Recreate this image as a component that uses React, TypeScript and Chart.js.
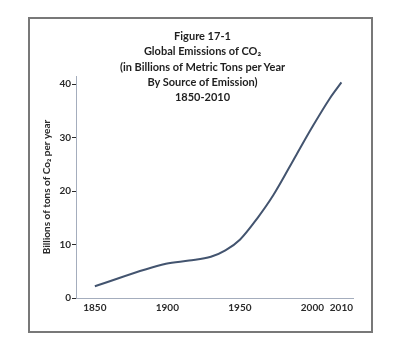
import React, { useEffect, useRef } from 'react';
import { Chart, registerables, LinearScale } from 'chart.js';

Chart.register(...registerables);

// ---- data ----
const years = [1850, 1899, 1915, 1930, 1940, 1950, 1962, 1973, 1989, 2000, 2006, 2010];
const emissions = [2.2, 6.4, 7.0, 7.7, 8.9, 10.9, 14.9, 19.2, 26.8, 32.0, 37.3, 40.3];
const xTickYears = [1850, 1900, 1950, 2000, 2010];
const yTickValues = [0, 10, 20, 30, 40];
const titleLines = [
  'Figure 17-1',
  'Global Emissions of CO₂',
  '(in Billions of Metric Tons per Year',
  'By Source of Emission)',
  '1850-2010',
];
const yAxisTitle = 'Billions of tons of Co₂ per year';

// The reference's year axis gives the last decade (2000-2010) about twice the room.
const STRETCH_FROM = 2000;
const STRETCH_FACTOR = 2;

class StretchScale extends LinearScale {
  static id = 'stretch';
  static defaults = { ...(LinearScale as any).defaults };
  _stretch(v: number) {
    return v <= STRETCH_FROM ? v : STRETCH_FROM + (v - STRETCH_FROM) * STRETCH_FACTOR;
  }
  _unstretch(w: number) {
    return w <= STRETCH_FROM ? w : STRETCH_FROM + (w - STRETCH_FROM) / STRETCH_FACTOR;
  }
  getPixelForValue(value: number) {
    if (value === null || value === undefined || isNaN(value)) return NaN;
    const a = this._stretch(this.min);
    const b = this._stretch(this.max);
    return this.getPixelForDecimal((this._stretch(value) - a) / (b - a));
  }
  getValueForPixel(pixel: number) {
    const a = this._stretch(this.min);
    const b = this._stretch(this.max);
    return this._unstretch(a + this.getDecimalForPixel(pixel) * (b - a));
  }
}
Chart.register(StretchScale as any);

const FONT = 'Lato, "Open Sans", sans-serif';
const AXIS_COLOR = '#a4adbd';
const TEXT_COLOR = '#2b2b2b';

export default function App() {
  const canvasRef = useRef<HTMLCanvasElement | null>(null);

  useEffect(() => {
    const canvas = canvasRef.current;
    if (!canvas) return;
    const chart = new Chart(canvas, {
      type: 'line',
      data: {
        datasets: [
          {
            data: years.map((y, i) => ({ x: y, y: emissions[i] })),
            borderColor: '#43546f',
            borderWidth: 2,
            pointRadius: 0,
            fill: false,
            cubicInterpolationMode: 'monotone',
          },
        ],
      },
      options: {
        animation: false,
        responsive: false,
        maintainAspectRatio: false,
        layout: { padding: { left: 20, top: 76, right: 51, bottom: 0 } },
        plugins: {
          legend: { display: false },
          tooltip: { enabled: false },
          title: { display: false },
        },
        scales: {
          x: {
            type: 'stretch' as any,
            min: 1837,
            max: 2014,
            afterBuildTicks: (s: any) => {
              s.ticks = xTickYears.map((v) => ({ value: v }));
            },
            afterFit: (s: any) => {
              s.height = 58;
            },
            grid: { display: false, drawTicks: false },
            border: { display: true, color: AXIS_COLOR, width: 1 },
            ticks: {
              callback: (v: any) => String(v),
              font: { family: FONT, weight: 'bold', size: 10 },
              color: TEXT_COLOR,
              padding: 4,
              maxRotation: 0,
              autoSkip: false,
            },
          } as any,
          y: {
            type: 'linear',
            min: 0,
            max: 41.5,
            afterBuildTicks: (s: any) => {
              s.ticks = yTickValues.map((v) => ({ value: v }));
            },
            afterFit: (s: any) => {
              s.width = 56;
            },
            grid: {
              drawOnChartArea: false,
              drawTicks: true,
              tickLength: 4,
              tickColor: TEXT_COLOR,
              tickWidth: 1,
            },
            border: { display: true, color: AXIS_COLOR, width: 1 },
            ticks: {
              font: { family: FONT, weight: 'bold', size: 10 },
              color: TEXT_COLOR,
              padding: 1,
            },
            title: {
              display: true,
              text: yAxisTitle,
              font: { family: FONT, size: 10, weight: 'bold' },
              color: TEXT_COLOR,
              padding: { top: 21, bottom: 0 },
            },
          },
        },
      },
    });
    return () => chart.destroy();
  }, []);

  return (
    <div style={{ position: 'absolute', left: 0, top: 0, width: 404, height: 356, background: '#fff' }}>
      <div
        style={{
          position: 'absolute',
          left: 28,
          top: 17,
          width: 345,
          height: 316,
          border: '2px solid #787878',
          boxSizing: 'border-box',
        }}
      />
      <canvas ref={canvasRef} width={404} height={356} style={{ position: 'absolute', left: 0, top: 0 }} />
      <div
        style={{
          position: 'absolute',
          left: 0,
          top: 28,
          width: 405,
          textAlign: 'center',
          fontFamily: FONT,
          fontWeight: 'bold',
          fontSize: 11,
          lineHeight: '15.3px',
          color: '#1f1f1f',
        }}
      >
        {titleLines.map((t) => (
          <div key={t}>{t}</div>
        ))}
      </div>
    </div>
  );
}
